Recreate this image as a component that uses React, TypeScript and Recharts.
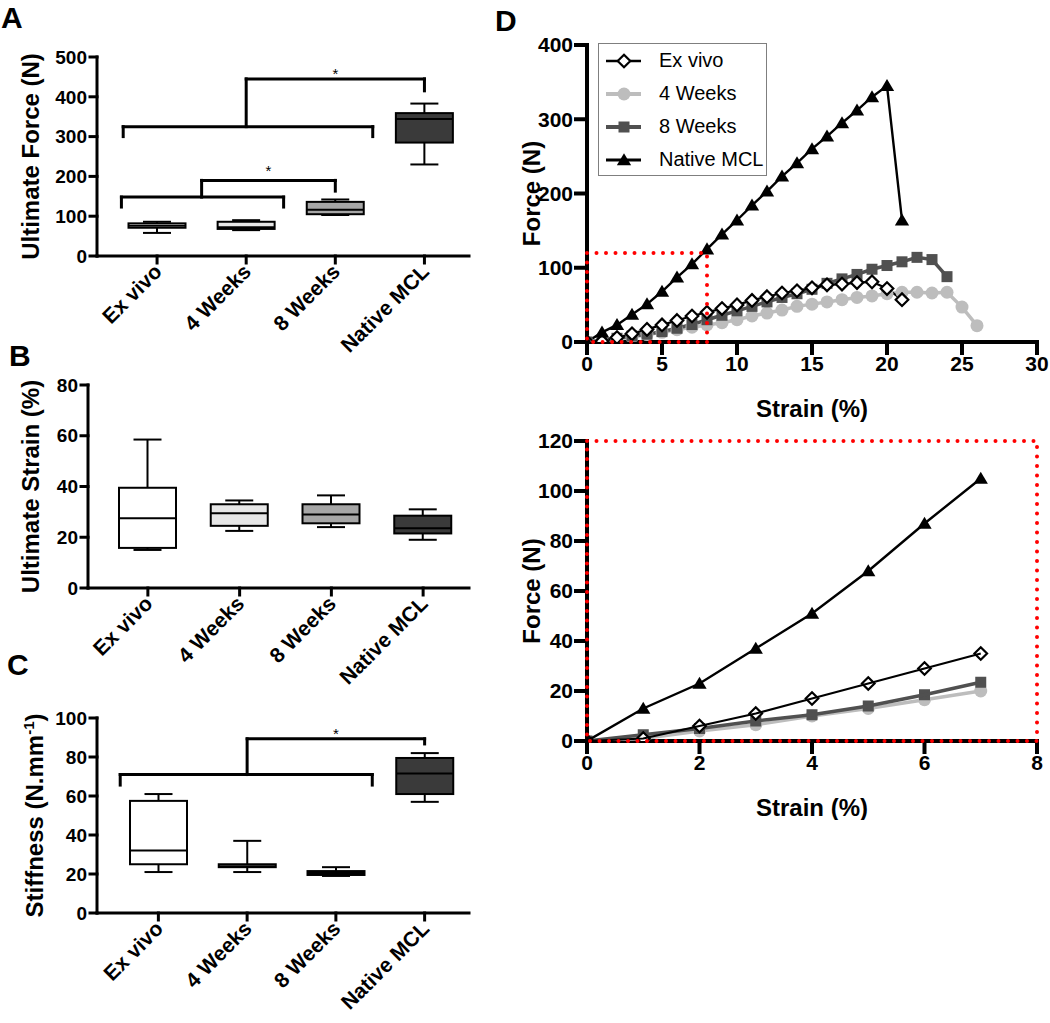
import React from 'react';
import {
  ComposedChart, Bar, XAxis, YAxis, ReferenceLine, ReferenceDot,
  LineChart, Line, ReferenceArea, Legend, Label,
} from 'recharts';

const FONT = '"Liberation Sans", Arial, Helvetica, sans-serif';

// groups shared by panels A-C
const groups = ['Ex vivo', '4 Weeks', '8 Weeks', 'Native MCL'];
const groupPos = [0, 1, 2, 3];
const boxFills = ['#ffffff', '#e6e6e6', '#a6a6a6', '#3a3a3a'];

// A: ultimate force (N)
const forceMin = [58, 65, 103, 230];
const forceQ1 = [71, 68, 105, 285];
const forceMedian = [76, 72, 116, 344];
const forceQ3 = [82, 86, 136, 359];
const forceMax = [86, 90, 142, 383];
const forceTicks = [0, 100, 200, 300, 400, 500];

// B: ultimate strain (%)
const strainMin = [15, 22.5, 24, 19];
const strainQ1 = [15.8, 24.5, 25.5, 21.5];
const strainMedian = [27.5, 29.5, 29, 23.5];
const strainQ3 = [39.5, 33, 33, 28.5];
const strainMax = [58.5, 34.5, 36.5, 31];
const strainTicks = [0, 20, 40, 60, 80];

// C: stiffness (N/mm)
const stiffMin = [21, 21, 19, 57];
const stiffQ1 = [25, 23.5, 19.5, 61];
const stiffMedian = [32, 24, 20.5, 71.5];
const stiffQ3 = [57.5, 25, 21.5, 79.5];
const stiffMax = [61, 37, 23.5, 82];
const stiffTicks = [0, 20, 40, 60, 80, 100];

// significance brackets, [group position, value] points
const forceBrackets: number[][][] = [
  [[-0.4, 123], [-0.4, 148], [1.42, 148], [1.42, 123]],
  [[0.5, 148], [0.5, 190], [2, 190], [2, 163]],
  [[-0.38, 300], [-0.38, 325], [2.42, 325], [2.42, 300]],
  [[1, 325], [1, 445], [3, 445], [3, 415]],
];
const forceStars = [[1.25, 214], [2, 458]];
const stiffBrackets: number[][][] = [
  [[-0.43, 65.6], [-0.43, 71], [2.41, 71], [2.41, 65.6]],
  [[1, 71], [1, 89.3], [3, 89.3], [3, 86.7]],
];
const stiffStars = [[2, 92]];

// D: force-strain curves
const strainPct = [0, 1, 2, 3, 4, 5, 6, 7, 8, 9, 10, 11, 12, 13, 14, 15, 16, 17, 18, 19, 20, 21, 22, 23, 24, 25, 26];
const exVivoForce = [0, 1, 6, 11, 17, 23, 29, 35, 40, 45, 50, 56, 61, 66, 69, 73, 77, 78, 80, 81, 72, 57];
const weeks4Force = [0, 1, 4, 6.5, 10, 13, 16.5, 20, 23, 26, 30, 35, 39, 43, 48, 51, 54, 57, 60, 62, 65, 67, 67, 66, 67, 47, 22];
const weeks8Force = [0, 2.5, 5, 8, 10.5, 14, 18.5, 23.5, 30, 36, 42, 48, 54, 60, 65, 71, 79, 85, 91, 98, 103, 108, 114, 111, 88];
const nativeForce = [0, 13, 23, 37, 51, 68, 87, 105, 125, 145, 164, 184, 203, 223, 241, 260, 277, 295, 312, 330, 345, 164];
const legendOrder = ['Ex vivo', '4 Weeks', '8 Weeks', 'Native MCL'];

type Kind = 'diamond' | 'circle' | 'square' | 'triangle';
const curveSeries: { name: string; values: number[]; color: string; width: number; kind: Kind }[] = [
  { name: '4 Weeks', values: weeks4Force, color: '#bdbdbd', width: 3.5, kind: 'circle' },
  { name: '8 Weeks', values: weeks8Force, color: '#505050', width: 3.5, kind: 'square' },
  { name: 'Ex vivo', values: exVivoForce, color: '#000000', width: 2.2, kind: 'diamond' },
  { name: 'Native MCL', values: nativeForce, color: '#000000', width: 2.4, kind: 'triangle' },
];

function makeRows(mn: number[], q1: number[], md: number[], q3: number[], mx: number[]) {
  return groups.map((name, i) => ({
    name, pos: groupPos[i], min: mn[i], q1: q1[i], median: md[i], q3: q3[i], max: mx[i], fill: boxFills[i],
  }));
}

function BoxShape(props: any) {
  const { x, y, width, height, payload } = props;
  const top = Math.min(y, y + height);
  const bottom = Math.max(y, y + height);
  const { min, q1, median, q3, max, fill } = payload;
  const py = (v: number) => bottom - ((v - min) / (max - min)) * (bottom - top);
  const cx = x + width / 2;
  const cap = 14;
  const st = { stroke: '#000', strokeWidth: 2 };
  return (
    <g>
      <line x1={cx} x2={cx} y1={py(max)} y2={py(q3)} {...st} />
      <line x1={cx} x2={cx} y1={py(q1)} y2={py(min)} {...st} />
      <line x1={cx - cap} x2={cx + cap} y1={py(max)} y2={py(max)} {...st} />
      <line x1={cx - cap} x2={cx + cap} y1={py(min)} y2={py(min)} {...st} />
      <rect x={x} y={py(q3)} width={width} height={Math.max(py(q1) - py(q3), 0.5)} fill={fill} {...st} />
      <line x1={x} x2={x + width} y1={py(median)} y2={py(median)} {...st} />
    </g>
  );
}

function GroupTick(props: any) {
  const { x, y, payload } = props;
  return (
    <g transform={`translate(${x + 6},${y + 8}) rotate(-45)`}>
      <text x={0} y={0} textAnchor="end" fontSize={21} fontWeight="bold" fill="#000">
        {payload.value}
      </text>
    </g>
  );
}

const yTitle = (content: React.ReactNode, x: number, size: number) => (props: any) => {
  const vb = props.viewBox || { y: 0, height: 0 };
  const cy = vb.y + vb.height / 2;
  return (
    <text x={x} y={cy} transform={`rotate(-90 ${x} ${cy})`} textAnchor="middle"
      fontSize={size} fontWeight="bold" fill="#000">
      {content}
    </text>
  );
};

const xTitle = (content: string, dy: number, size: number) => (props: any) => {
  const vb = props.viewBox || { x: 0, y: 0, width: 0 };
  return (
    <text x={vb.x + vb.width / 2} y={vb.y + dy} textAnchor="middle" fontSize={size}
      fontWeight="bold" fill="#000">
      {content}
    </text>
  );
};

type BoxPanelProps = {
  rows: any[]; yMax: number; yTicks: number[]; title: React.ReactNode; titleX: number;
  brackets: number[][][]; stars: number[][]; left: number; top: number; height: number;
  marginTop: number; axisWidth: number; xAxisHeight: number; padLeft: number;
};

const axisStroke = { stroke: '#000', strokeWidth: 3, strokeLinecap: 'square' as const };

function BoxPanel(p: BoxPanelProps) {
  const width = 480;
  return (
    <div style={{ position: 'absolute', left: p.left, top: p.top, width, height: p.height }}>
      <ComposedChart width={width} height={p.height} data={p.rows}
        margin={{ top: p.marginTop, right: 11, left: 0, bottom: 0 }}>
        <XAxis dataKey="name" type="category" height={p.xAxisHeight} interval={0}
          padding={{ left: p.padLeft, right: 0 }} tickSize={7} tickMargin={2}
          axisLine={axisStroke} tickLine={axisStroke} tick={<GroupTick />} />
        <XAxis xAxisId="n" dataKey="pos" type="number" domain={[-0.5, 3.5]} allowDataOverflow hide
          padding={{ left: p.padLeft, right: 0 }} />
        <YAxis width={p.axisWidth} domain={[0, p.yMax]} ticks={p.yTicks} allowDataOverflow
          interval={0} tickSize={7} tickMargin={3} axisLine={axisStroke} tickLine={axisStroke}
          tick={{ fontSize: 19, fontWeight: 'bold', fill: '#000' }}>
          <Label content={yTitle(p.title, p.titleX, 24)} />
        </YAxis>
        <Bar dataKey={(d: any) => [d.min, d.max]} barSize={57} isAnimationActive={false}
          shape={<BoxShape />} />
        {p.brackets.flatMap((pts, bi) =>
          pts.slice(1).map((pt, si) => (
            <ReferenceLine key={`b${bi}-${si}`} xAxisId="n" ifOverflow="visible"
              segment={[{ x: pts[si][0], y: pts[si][1] }, { x: pt[0], y: pt[1] }]}
              stroke="#000" strokeWidth={3} strokeLinecap="square" />
          )))}
        {p.stars.map((s, i) => (
          <ReferenceDot key={`s${i}`} xAxisId="n" x={s[0]} y={s[1]} r={1} fill="none" stroke="none"
            ifOverflow="visible"
            label={{ value: '*', position: 'center', fontSize: 15, fill: '#000' }} />
        ))}
      </ComposedChart>
    </div>
  );
}

function Marker({ kind, cx, cy, s }: { kind: Kind; cx: number; cy: number; s: number }) {
  if (kind === 'diamond')
    return <path d={`M${cx},${cy - s} L${cx + s},${cy} L${cx},${cy + s} L${cx - s},${cy} Z`}
      fill="#fff" stroke="#000" strokeWidth={2.2} />;
  if (kind === 'circle') return <circle cx={cx} cy={cy} r={s} fill="#bdbdbd" />;
  if (kind === 'square')
    return <rect x={cx - s} y={cy - s} width={2 * s} height={2 * s} fill="#505050" />;
  return <path d={`M${cx},${cy - s * 1.05} L${cx + s * 1.1},${cy + s * 0.8} L${cx - s * 1.1},${cy + s * 0.8} Z`}
    fill="#000" />;
}

const markerSize: Record<Kind, number> = { diamond: 6.3, circle: 6.5, square: 5.5, triangle: 6.5 };

const renderLegend = () => (
  <div style={{
    width: 167, height: 131, border: '1px solid #7f7f7f', background: '#fff',
    fontFamily: FONT, fontSize: 20, color: '#000',
  }}>
    {legendOrder.map((name) => {
      const s = curveSeries.find((c) => c.name === name)!;
      return (
        <div key={name} style={{ display: 'flex', alignItems: 'center', height: 33 }}>
          <svg width={50} height={24}>
            <line x1={7} x2={42} y1={12} y2={12} stroke={s.color} strokeWidth={s.width + 0.5} />
            <Marker kind={s.kind} cx={25} cy={12} s={markerSize[s.kind]} />
          </svg>
          <span style={{ marginLeft: 10 }}>{name}</span>
        </div>
      );
    })}
  </div>
);

type CurveProps = {
  top: number; height: number; marginTop: number; xAxisHeight: number; xMax: number;
  xTicks: number[]; yMax: number; yTicks: number[]; count: number; legend?: boolean;
};

function CurvePanel(p: CurveProps) {
  const width = 570;
  const dAxis = { stroke: '#000', strokeWidth: 4, strokeLinecap: 'square' as const };
  const extra: any = { zIndex: 700 };
  const lineZ: any = { zIndex: 600 };
  return (
    <div style={{ position: 'absolute', left: 480, top: p.top, width, height: p.height }}>
      <LineChart width={width} height={p.height} margin={{ top: p.marginTop, right: 13, left: 0, bottom: 0 }}>
        <XAxis type="number" dataKey="strain" domain={[0, p.xMax]} ticks={p.xTicks} allowDataOverflow
          interval={0} height={p.xAxisHeight} tickSize={11} tickMargin={3} axisLine={dAxis} tickLine={dAxis}
          tick={{ fontSize: 21, fontWeight: 'bold', fill: '#000' }}>
          <Label content={xTitle('Strain (%)', 75, 24)} />
        </XAxis>
        <YAxis type="number" width={107} domain={[0, p.yMax]} ticks={p.yTicks} allowDataOverflow
          interval={0} tickSize={11} tickMargin={3} axisLine={dAxis} tickLine={dAxis}
          tick={{ fontSize: 21, fontWeight: 'bold', fill: '#000' }}>
          <Label content={yTitle('Force (N)', 60, 24)} />
        </YAxis>
        {curveSeries.map((s) => (
          <Line key={s.name} name={s.name} type="linear" {...lineZ}
            data={s.values.slice(0, p.count).map((f, i) => ({ strain: strainPct[i], force: f }))}
            dataKey="force" stroke={s.color} strokeWidth={s.width} isAnimationActive={false}
            activeDot={false}
            dot={(d: any) => <Marker key={`${s.name}-${d.index}`} kind={s.kind} cx={d.cx} cy={d.cy} s={markerSize[s.kind]} />} />
        ))}
        <ReferenceArea x1={0} x2={8} y1={0} y2={120} fill="none" stroke="#ff0000" strokeWidth={4}
          strokeDasharray="0 9.5" strokeLinecap="round" ifOverflow="visible" {...extra} />
        {p.legend && (
          <Legend layout="vertical" align="center" verticalAlign="middle" content={renderLegend}
            wrapperStyle={{ left: 118, top: 43, width: 169, height: 133 }} />
        )}
      </LineChart>
    </div>
  );
}

export default function App() {
  const stiffTitle = (
    <>
      Stiffness (N.mm<tspan dy={-9} fontSize={15}>-1</tspan><tspan dy={9}>)</tspan>
    </>
  );
  return (
    <div style={{
      position: 'absolute', left: 0, top: 0, width: 1050, height: 1023,
      background: '#fff', fontFamily: FONT, overflow: 'hidden',
    }}>
      <BoxPanel rows={makeRows(forceMin, forceQ1, forceMedian, forceQ3, forceMax)} yMax={500}
        yTicks={forceTicks} title="Ultimate Force (N)" titleX={39} brackets={forceBrackets}
        stars={forceStars} left={0} top={0} height={365} marginTop={57} axisWidth={97}
        xAxisHeight={109} padLeft={15.5} />
      <BoxPanel rows={makeRows(strainMin, strainQ1, strainMedian, strainQ3, strainMax)} yMax={80}
        yTicks={strainTicks} title="Ultimate Strain (%)" titleX={39} brackets={[]} stars={[]}
        left={0} top={340} height={360} marginTop={45} axisWidth={88} xAxisHeight={112} padLeft={14} />
      <BoxPanel rows={makeRows(stiffMin, stiffQ1, stiffMedian, stiffQ3, stiffMax)} yMax={100}
        yTicks={stiffTicks} title={stiffTitle} titleX={43} brackets={stiffBrackets}
        stars={stiffStars} left={0} top={670} height={353} marginTop={48} axisWidth={97}
        xAxisHeight={110} padLeft={17} />
      <CurvePanel top={0} height={430} marginTop={45} xAxisHeight={88} xMax={30}
        xTicks={[0, 5, 10, 15, 20, 25, 30]} yMax={400} yTicks={[0, 100, 200, 300, 400]}
        count={strainPct.length} legend />
      <CurvePanel top={400} height={420} marginTop={41} xAxisHeight={79} xMax={8}
        xTicks={[0, 2, 4, 6, 8]} yMax={120} yTicks={[0, 20, 40, 60, 80, 100, 120]} count={8} />
      <svg width={1050} height={1023} style={{ position: 'absolute', left: 0, top: 0, pointerEvents: 'none' }}>
        <g fontSize={30} fontWeight="bold" fill="#000">
          <text x={1} y={28}>A</text>
          <text x={9} y={366}>B</text>
          <text x={7} y={675}>C</text>
          <text x={495} y={31}>D</text>
        </g>
      </svg>
    </div>
  );
}
